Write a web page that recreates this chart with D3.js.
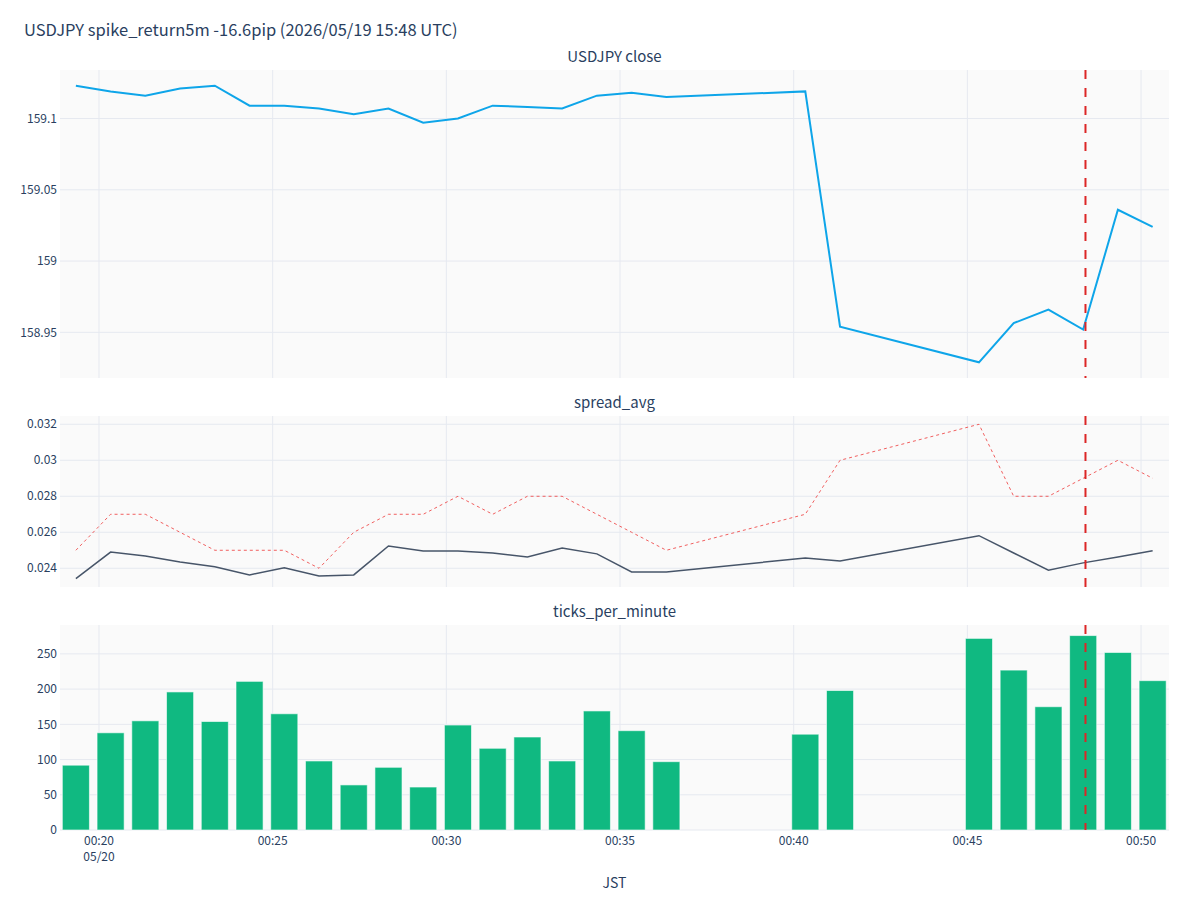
<!DOCTYPE html>
<html>
<head>
<meta charset="utf-8">
<script src="https://cdn.jsdelivr.net/npm/d3@7"></script>
<style>
  body { margin: 0; background: #fff; }
  svg text { font-family: "Noto Sans CJK JP", "Noto Sans", sans-serif; fill: #2a3f5f; }
</style>
</head>
<body>
<svg id="chart" width="1200" height="900"></svg>
<script>
// minute timestamps (JST), gaps are missing minutes
var times = ["00:19:20","00:20:20","00:21:20","00:22:20","00:23:20","00:24:20","00:25:20","00:26:20","00:27:20",
  "00:28:20","00:29:20","00:30:20","00:31:20","00:32:20","00:33:20","00:34:20","00:35:20","00:36:20",
  "00:40:20","00:41:20","00:45:20","00:46:20","00:47:20","00:48:20","00:49:20","00:50:20"];
var closeVals = [159.123,159.119,159.116,159.121,159.123,159.109,159.109,159.107,159.103,
  159.107,159.097,159.100,159.109,159.108,159.107,159.116,159.118,159.115,
  159.119,158.954,158.929,158.9565,158.966,158.952,159.036,159.024];
var spreadAvg = [0.02342,0.0249,0.02468,0.02435,0.02409,0.02363,0.02403,0.02357,0.02363,
  0.02524,0.02496,0.02496,0.02485,0.02463,0.02513,0.0248,0.0238,0.0238,
  0.02457,0.0244,0.02581,0.02485,0.02389,0.0243,0.02463,0.02498];
var spreadMax = [0.025,0.027,0.027,0.026,0.025,0.025,0.025,0.024,0.026,
  0.027,0.027,0.028,0.027,0.028,0.028,0.027,0.026,0.025,
  0.027,0.030,0.032,0.028,0.028,0.029,0.030,0.029];
var ticksPerMin = [92,138,155,196,154,211,165,98,64,89,61,149,116,132,98,169,141,97,
  136,198,272,227,175,276,252,212];
var spikeTime = "00:48:24";
var xTickTimes = ["00:20:00","00:25:00","00:30:00","00:35:00","00:40:00","00:45:00","00:50:00"];
var closeTicks = [158.95, 159, 159.05, 159.1];
var spreadTicks = [0.024, 0.026, 0.028, 0.03, 0.032];
var tickTicks = [0, 50, 100, 150, 200, 250];

var day = "2026-05-20 ";
var parse = d3.timeParse("%Y-%m-%d %H:%M:%S");
var data = times.map(function(t, i) {
  return {t: parse(day + t), close: closeVals[i], avg: spreadAvg[i], max: spreadMax[i], ticks: ticksPerMin[i]};
});

var svg = d3.select("#chart");
var left = 60, right = 1169;

var x = d3.scaleTime()
  .domain([parse(day + "00:18:50"), parse(day + "00:50:50")])
  .range([58.5, 1170]);
var slot = x(parse(day + "00:01:00")) - x(parse(day + "00:00:00"));

var panels = [
  {title: "USDJPY close", top: 70, bottom: 378, domain: [158.918, 159.134], ticks: closeTicks},
  {title: "spread_avg", top: 416, bottom: 587, domain: [0.02296, 0.03246], ticks: spreadTicks},
  {title: "ticks_per_minute", top: 625, bottom: 830, domain: [0, 291], ticks: tickTicks}
];

panels.forEach(function(p) {
  p.y = d3.scaleLinear().domain(p.domain).range([p.bottom, p.top]);
  var g = svg.append("g");
  p.g = g;
  g.append("rect").attr("x", left).attr("y", p.top)
    .attr("width", right - left).attr("height", p.bottom - p.top).attr("fill", "#fafafa");
  // grid
  g.selectAll(".vg").data(xTickTimes).enter().append("line")
    .attr("x1", function(d) { return x(parse(day + d)); })
    .attr("x2", function(d) { return x(parse(day + d)); })
    .attr("y1", p.top).attr("y2", p.bottom)
    .attr("stroke", "#e6e9f0").attr("stroke-width", 1);
  g.selectAll(".hg").data(p.ticks).enter().append("line")
    .attr("x1", left).attr("x2", right)
    .attr("y1", function(d) { return p.y(d); }).attr("y2", function(d) { return p.y(d); })
    .attr("stroke", "#e6e9f0").attr("stroke-width", 1);
  // y labels
  g.selectAll(".yl").data(p.ticks).enter().append("text")
    .attr("x", left - 3).attr("y", function(d) { return p.y(d); })
    .attr("dy", "0.35em").attr("text-anchor", "end").attr("font-size", 12)
    .text(function(d) { return String(+d.toFixed(4)); });
  svg.append("text").attr("x", (left + right) / 2).attr("y", p.top - 8)
    .attr("text-anchor", "middle").attr("font-size", 15).text(p.title);
});

// close line
var p0 = panels[0];
p0.g.append("path").datum(data)
  .attr("fill", "none").attr("stroke", "#0ea5e9").attr("stroke-width", 2)
  .attr("d", d3.line().x(function(d) { return x(d.t); }).y(function(d) { return p0.y(d.close); }));

// spread lines
var p1 = panels[1];
p1.g.append("path").datum(data)
  .attr("fill", "none").attr("stroke", "#ef4444").attr("stroke-opacity", 0.85)
  .attr("stroke-width", 1).attr("stroke-dasharray", "3,3")
  .attr("d", d3.line().x(function(d) { return x(d.t); }).y(function(d) { return p1.y(d.max); }));
p1.g.append("path").datum(data)
  .attr("fill", "none").attr("stroke", "#475569").attr("stroke-width", 1.5)
  .attr("d", d3.line().x(function(d) { return x(d.t); }).y(function(d) { return p1.y(d.avg); }));

// ticks bars
var p2 = panels[2];
var bw = slot * 0.78;
p2.g.selectAll(".bar").data(data).enter().append("rect")
  .attr("x", function(d) { return x(d.t) - bw / 2; })
  .attr("y", function(d) { return p2.y(d.ticks); })
  .attr("width", bw)
  .attr("height", function(d) { return p2.bottom - p2.y(d.ticks); })
  .attr("fill", "#10b981").attr("stroke", "#ffffff").attr("stroke-opacity", 0.6).attr("stroke-width", 1);

// spike marker
panels.forEach(function(p) {
  var sx = x(parse(day + spikeTime));
  p.g.append("line").attr("x1", sx).attr("x2", sx).attr("y1", p.top).attr("y2", p.bottom)
    .attr("stroke", "#dc2626").attr("stroke-width", 2).attr("stroke-dasharray", "9,9");
});

// x axis labels
var fmt = d3.timeFormat("%H:%M");
var xl = svg.append("g");
xl.selectAll("text").data(xTickTimes).enter().append("text")
  .attr("x", function(d) { return x(parse(day + d)); }).attr("y", 845)
  .attr("text-anchor", "middle").attr("font-size", 12)
  .text(function(d) { return fmt(parse(day + d)); });
xl.append("text").attr("x", x(parse(day + xTickTimes[0]))).attr("y", 861)
  .attr("text-anchor", "middle").attr("font-size", 12)
  .text(d3.timeFormat("%m/%d")(parse(day + xTickTimes[0])));
svg.append("text").attr("x", (left + right) / 2).attr("y", 888)
  .attr("text-anchor", "middle").attr("font-size", 14).text("JST");

svg.append("text").attr("x", 24).attr("y", 36).attr("font-size", 16.5)
  .text("USDJPY spike_return5m -16.6pip (2026/05/19 15:48 UTC)");
</script>
</body>
</html>
